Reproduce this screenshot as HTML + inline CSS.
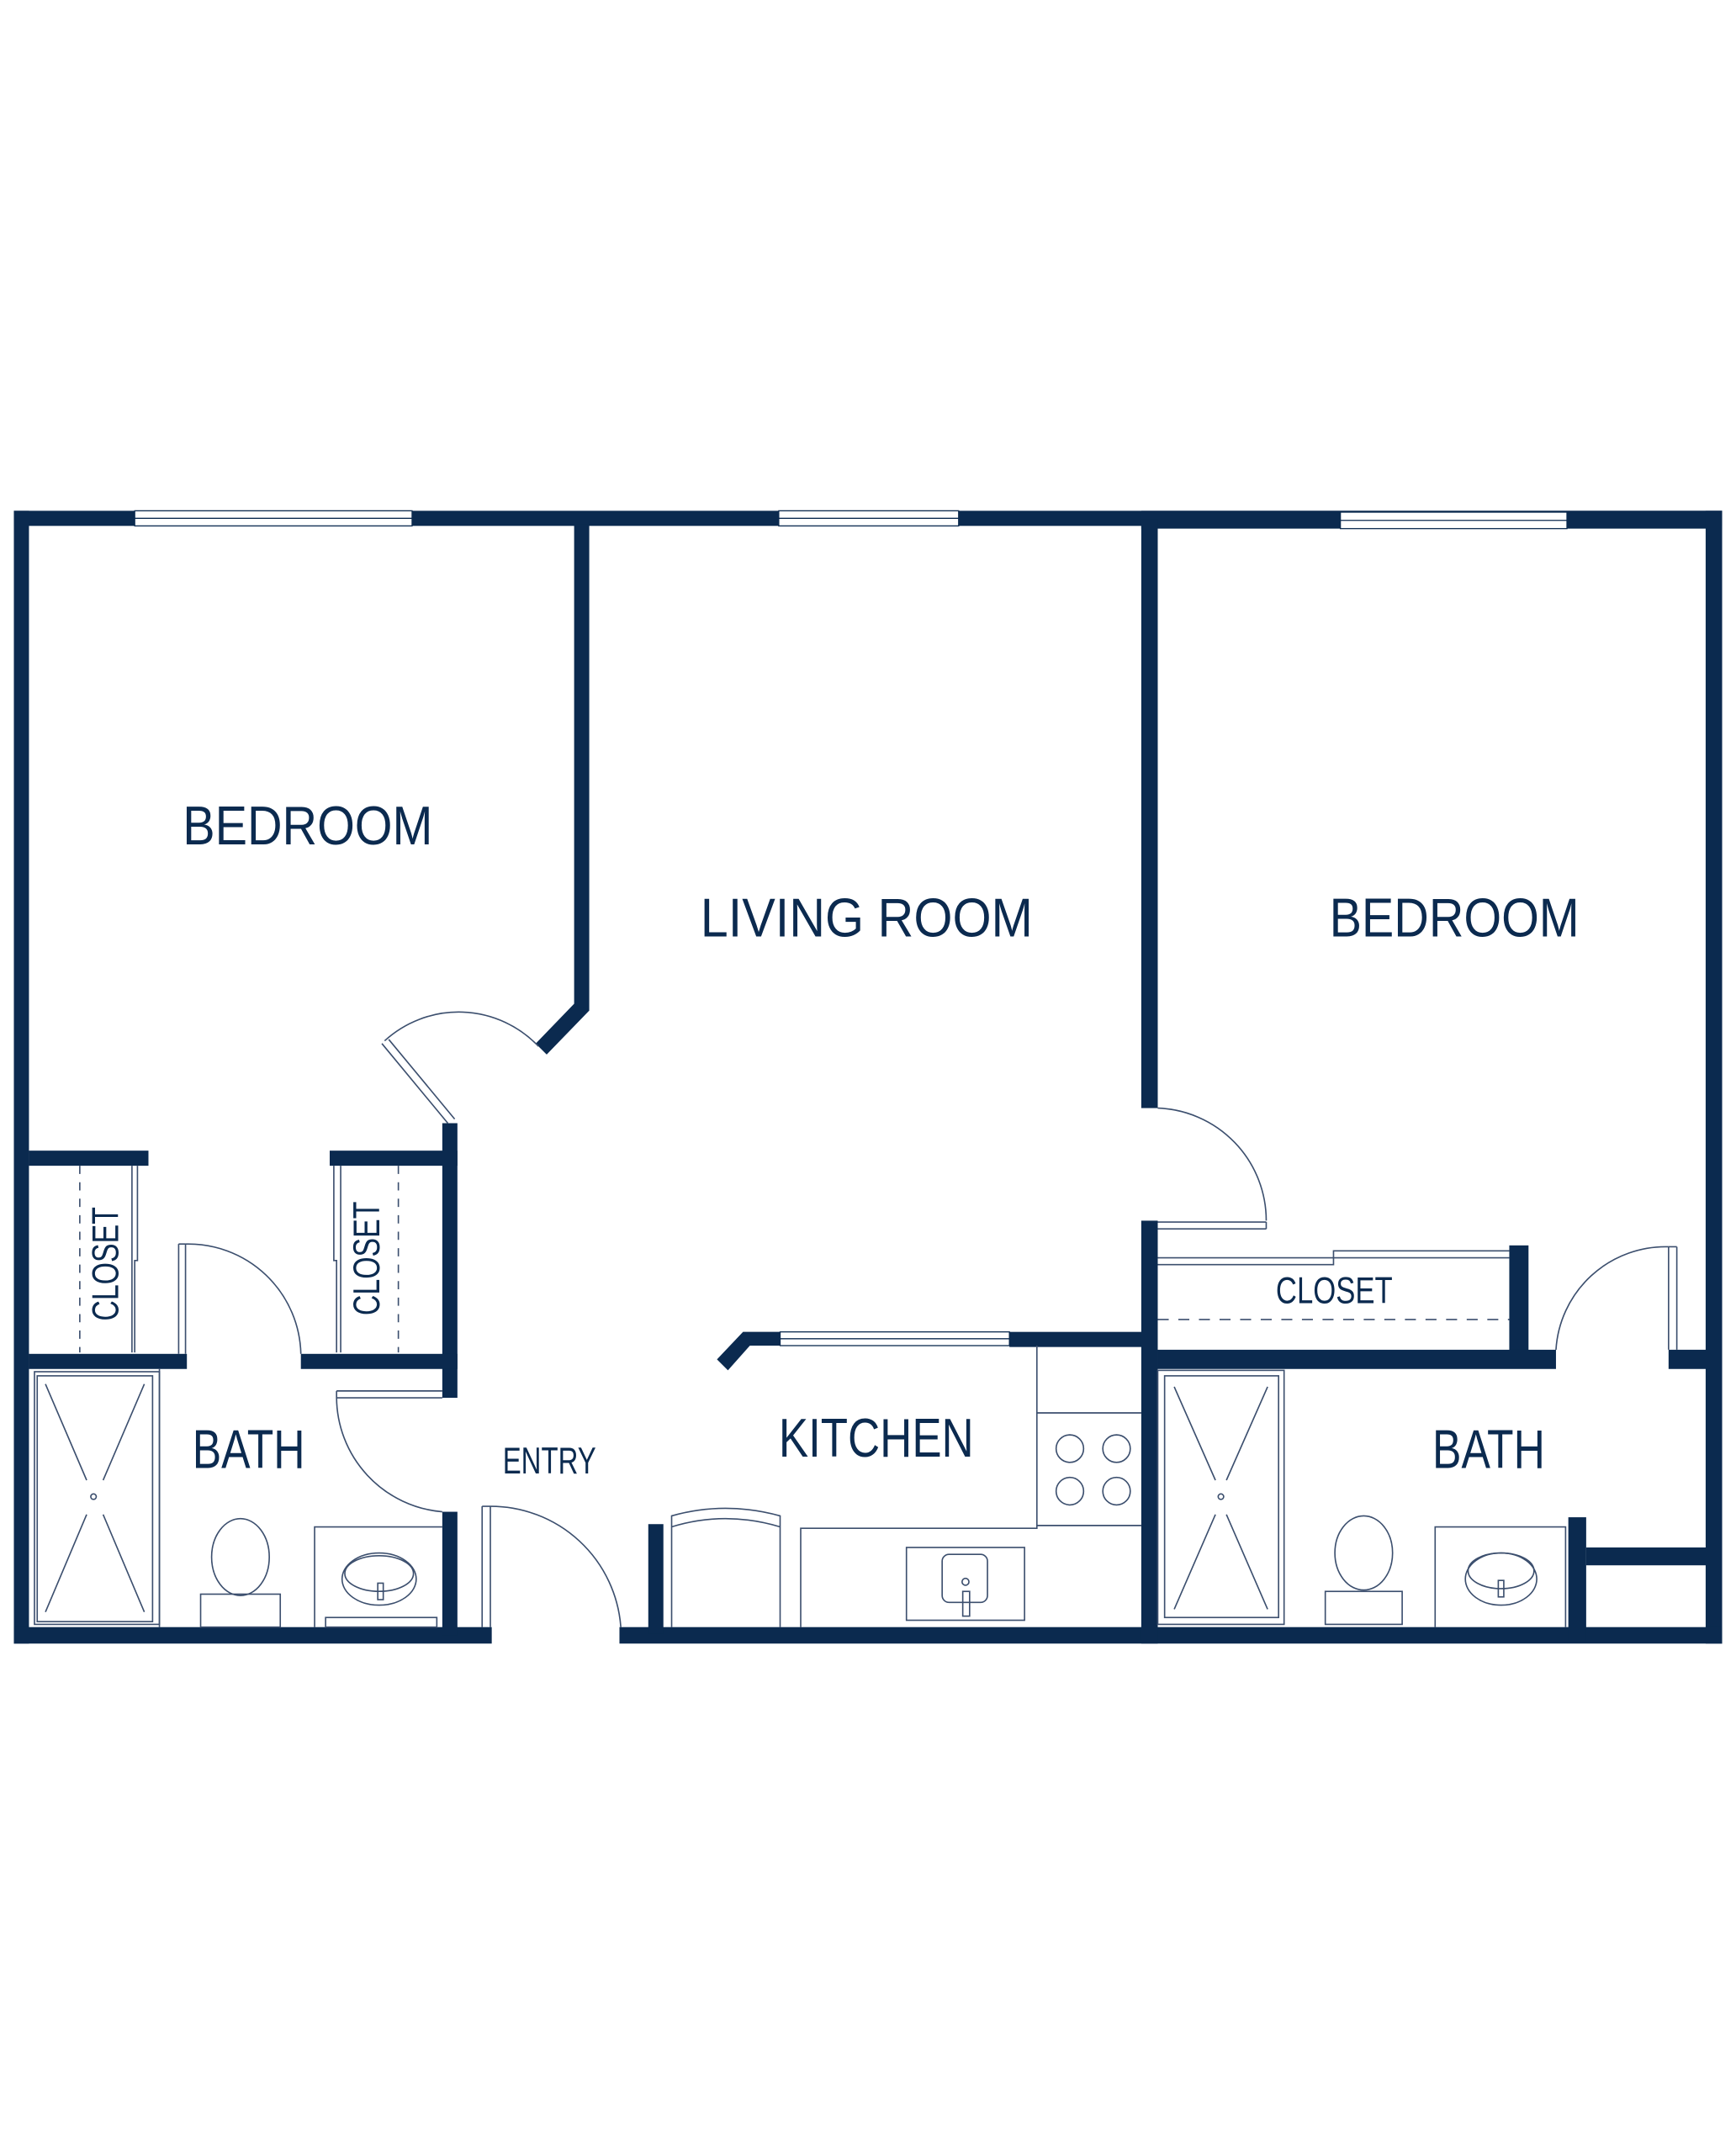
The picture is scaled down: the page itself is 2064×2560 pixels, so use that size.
<!DOCTYPE html>
<html><head><meta charset="utf-8"><style>
html,body{margin:0;padding:0;background:#fff;}
svg{display:block;}
text{font-family:"Liberation Sans",sans-serif;fill:#0b2a4f;}
</style></head><body>
<svg width="2064" height="2560" viewBox="0 0 1264 1568" xmlns="http://www.w3.org/2000/svg">
<g fill="#0b2a4f">
<!-- outer walls -->
<rect x="10" y="372" width="1244" height="11"/>
<rect x="831" y="372" width="423" height="13"/>
<rect x="10" y="372" width="11" height="825"/>
<rect x="1242" y="372" width="12" height="825"/>
<rect x="10" y="1185" width="348" height="12"/>
<rect x="451" y="1185" width="803" height="12"/>
<!-- left bedroom / living wall -->
<rect x="418" y="382" width="11" height="354"/>
<polygon points="418,731 429,736 398,768 390,760"/>
<!-- left closets & entry wall -->
<rect x="21" y="838" width="87" height="11"/>
<rect x="240" y="838" width="93" height="11"/>
<rect x="322" y="818" width="11" height="200"/>
<rect x="21" y="986" width="115" height="11"/>
<rect x="219" y="986" width="114" height="11"/>
<rect x="322" y="1101" width="11" height="90"/>
<!-- kitchen -->
<rect x="472" y="1110" width="11" height="80"/>
<polygon points="522,990 541,970 568,970 568,980 546,980 530,998"/>
<rect x="735" y="970" width="100" height="11"/>
<!-- center/right bedroom wall -->
<rect x="831" y="378" width="12" height="429"/>
<rect x="831" y="889" width="12" height="308"/>
<rect x="1099" y="907" width="14" height="85"/>
<rect x="843" y="983" width="290" height="14"/>
<rect x="1215" y="983" width="30" height="14"/>
<rect x="1142" y="1105" width="13" height="90"/>
<rect x="1155" y="1127" width="90" height="13"/>
</g>
<!-- windows -->
<g fill="#fff" stroke="#0b2a4f" stroke-width="0.8">
<rect x="98" y="372" width="202" height="11"/><line x1="98" y1="377.5" x2="300" y2="377.5"/>
<rect x="567" y="372" width="131" height="11"/><line x1="567" y1="377.5" x2="698" y2="377.5"/>
<rect x="976" y="373" width="165" height="12"/><line x1="976" y1="379" x2="1141" y2="379"/>
<rect x="568" y="970" width="167" height="10"/><line x1="568" y1="975" x2="735" y2="975"/>
</g>
<g fill="none" stroke="#3c4f6e" stroke-width="1">
<!-- left bedroom door -->
<path d="M278,760 L326,818 M283,757 L331,815"/>
<path d="M280,758 A80,80 0 0 1 392,762"/>
<!-- closets -->
<path d="M58,849 V985" stroke-dasharray="6,6"/>
<path d="M96,849 V985 M100,849 V918 H98 V985"/>
<path d="M290,849 V985" stroke-dasharray="6,6"/>
<path d="M243,849 V918 H245 V985 M248,849 V985"/>
<!-- left bath door -->
<path d="M130,906 V986 M135,906 V986 M130,906 H135"/>
<path d="M135,906 A82,82 0 0 1 219,986"/>
<path d="M245,1013 H322 M245,1018 H322 M245,1013 V1018"/>
<path d="M245,1018 A84,84 0 0 0 322,1101"/>
<!-- entry door -->
<path d="M351,1097 V1185 M357,1097 V1185 M351,1097 H357"/>
<path d="M357,1097 A95,95 0 0 1 452,1185"/>
<!-- left bath fixtures -->
<rect x="25" y="999" width="91" height="184"/>
<rect x="27" y="1002" width="84" height="179"/>
<path d="M33,1008 L63,1078 M105,1008 L75,1078 M33,1174 L63,1103 M105,1174 L75,1103"/>
<circle cx="68" cy="1090" r="2"/>
<path d="M116,997 V1185"/>
<ellipse cx="175" cy="1134" rx="21" ry="28"/>
<rect x="146" y="1161" width="58" height="24"/>
<path d="M229,1185 V1112 H322"/>
<ellipse cx="276" cy="1150" rx="27" ry="19"/>
<ellipse cx="276" cy="1146" rx="25" ry="13"/>
<rect x="275" y="1153" width="4" height="12"/>
<rect x="237" y="1178" width="81" height="7"/>
<!-- kitchen -->
<path d="M489,1185 V1104 Q528,1093 568,1104 V1185"/>
<path d="M489,1112 Q528,1100 568,1112"/>
<path d="M583,1185 V1113 H755 V980 M755,1029 H831 M755,1111 H831"/>
<circle cx="779" cy="1055" r="10"/><circle cx="813" cy="1055" r="10"/>
<circle cx="779" cy="1086" r="10"/><circle cx="813" cy="1086" r="10"/>
<rect x="660" y="1127" width="86" height="53"/>
<rect x="686" y="1132" width="33" height="35" rx="5"/>
<circle cx="703" cy="1152" r="2.5"/>
<rect x="701" y="1159" width="5" height="18"/>
<!-- right bedroom door -->
<path d="M843,807 A82,82 0 0 1 922,889"/>
<path d="M843,890 H922 M843,895 H922 M922,890 V895"/>
<!-- right closet -->
<path d="M843,916 H971 V911 H1099 M843,921 H971 V916 H1099"/>
<path d="M843,961 H1099" stroke-dasharray="8,7"/>
<!-- right bath door -->
<path d="M1215,908 V983 M1221,908 V983 M1215,908 H1221"/>
<path d="M1215,908 A80,80 0 0 0 1133,983"/>
<!-- right bath -->
<rect x="843" y="998" width="92" height="185"/>
<rect x="848" y="1002" width="83" height="176"/>
<path d="M855,1010 L885,1078 M923,1010 L893,1078 M855,1172 L885,1103 M923,1172 L893,1103"/>
<circle cx="889" cy="1090" r="2"/>
<ellipse cx="993" cy="1131" rx="21" ry="27"/>
<rect x="965" y="1159" width="56" height="24"/>
<path d="M1045,1185 V1112 H1140 V1185"/>
<ellipse cx="1093" cy="1150" rx="26" ry="19"/>
<ellipse cx="1093" cy="1144" rx="24" ry="13"/>
<rect x="1091" y="1151" width="4" height="12"/>
</g>
<!-- labels -->
<text x="133" y="615" font-size="40" textLength="182" lengthAdjust="spacingAndGlyphs">BEDROOM</text>
<text x="510" y="682" font-size="40" textLength="242" lengthAdjust="spacingAndGlyphs">LIVING ROOM</text>
<text x="968" y="682" font-size="40" textLength="182" lengthAdjust="spacingAndGlyphs">BEDROOM</text>
<text x="140" y="1069" font-size="40" textLength="82" lengthAdjust="spacingAndGlyphs">BATH</text>
<text x="1043" y="1069" font-size="40" textLength="82" lengthAdjust="spacingAndGlyphs">BATH</text>
<text x="567" y="1061" font-size="40" textLength="142" lengthAdjust="spacingAndGlyphs">KITCHEN</text>
<text x="366" y="1073" font-size="27" textLength="68" lengthAdjust="spacingAndGlyphs">ENTRY</text>
<text x="929" y="949" font-size="27" textLength="85" lengthAdjust="spacingAndGlyphs">CLOSET</text>
<text transform="translate(86,962) rotate(-90)" font-size="27" textLength="83" lengthAdjust="spacingAndGlyphs">CLOSET</text>
<text transform="translate(276,958) rotate(-90)" font-size="27" textLength="83" lengthAdjust="spacingAndGlyphs">CLOSET</text>
</svg>
</body></html>
